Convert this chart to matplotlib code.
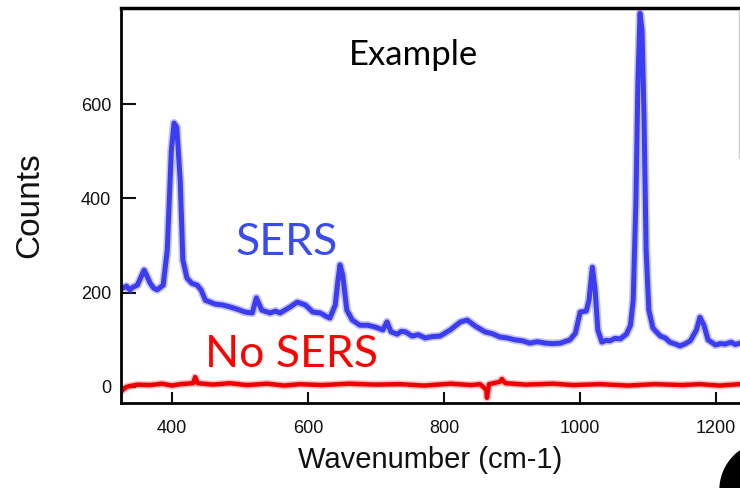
import matplotlib
matplotlib.use("Agg")
import matplotlib.pyplot as plt
from matplotlib.patches import Ellipse
from matplotlib.lines import Line2D

# SERS spectrum (wavenumber, counts)
sers_x = [328, 333, 338, 343, 349, 359, 368, 373, 378, 387, 393, 399, 403, 407,
          412, 416, 422, 429, 437, 443, 449, 456, 463, 474, 485, 496, 507, 518,
          524, 532, 538, 544, 552, 559, 574, 584, 590, 596, 607, 618, 625, 632,
          640, 644, 647, 651, 657, 665, 670, 676, 688, 699, 710, 716, 722, 731,
          737, 743, 753, 762, 772, 783, 794, 809, 824, 834, 846, 860, 871, 882,
          893, 904, 915, 926, 937, 949, 960, 971, 985, 993, 1000, 1009, 1013,
          1018, 1022, 1026, 1032, 1038, 1044, 1051, 1059, 1068, 1074, 1078, 1082,
          1085, 1088, 1091, 1094, 1097, 1101, 1107, 1112, 1118, 1125, 1132, 1140,
          1147, 1155, 1162, 1171, 1176, 1182, 1188, 1194, 1199, 1206, 1213, 1222,
          1228, 1235]
sers_y = [210, 214, 206, 212, 216, 248, 220, 210, 206, 216, 290, 502, 560, 551,
          439, 269, 231, 220, 216, 205, 184, 180, 176, 174, 170, 165, 159, 157,
          189, 163, 160, 157, 161, 157, 170, 180, 177, 174, 159, 157, 151, 146,
          174, 227, 259, 237, 163, 142, 137, 131, 131, 127, 121, 138, 117, 112,
          118, 117, 108, 111, 104, 107, 108, 121, 138, 142, 129, 117, 113, 106,
          104, 100, 98, 93, 96, 93, 92, 93, 100, 114, 159, 161, 184, 254, 206,
          121, 95, 99, 98, 103, 102, 112, 131, 184, 396, 651, 793, 757, 566, 290,
          163, 125, 117, 108, 104, 95, 91, 87, 92, 98, 121, 148, 131, 100, 94, 89,
          92, 91, 95, 90, 93]

# No SERS trace
nosers_x = [328, 333, 338, 350, 368, 385, 400, 412, 431, 434, 438, 460, 485,
            510, 540, 565, 588, 620, 660, 700, 735, 770, 810, 840, 853, 862, 863,
            866, 882, 885, 890, 920, 960, 990, 1029, 1070, 1110, 1150, 1176, 1205,
            1235]
nosers_y = [-6, 0, 2, 5, 4, 7, 3, 6, 8, 21, 8, 5, 8, 4, 7, 3, 6, 4, 7, 5, 6, 3,
            7, 4, 6, -6, -23, 6, 11, 17, 8, 5, 7, 4, 6, 3, 6, 4, 6, 3, 6]

yticks = [0, 200, 400, 600]
xticks = [400, 600, 800, 1000, 1200]

fig = plt.figure(figsize=(7.4, 4.88), dpi=100)
ax = fig.add_axes([121 / 740, 85 / 488, 1 - 121 / 740, 395 / 488])

ax.plot(sers_x, sers_y, color="#4040f5", lw=6, alpha=0.3, solid_capstyle="round")
ax.plot(sers_x, sers_y, color="#3c3cf0", lw=3.6, solid_joinstyle="round")
ax.plot(nosers_x, nosers_y, color="#ff6666", lw=5.5, alpha=0.4)
ax.plot(nosers_x, nosers_y, color="#ee0000", lw=3.2)

ax.set_xlim(325, 1235)
ax.set_ylim(-34, 804)
ax.set_xticks(xticks)
ax.set_yticks(yticks)
ax.tick_params(direction="in", width=1.5, colors="#111111", labelsize=13)
ax.tick_params(axis="x", length=8, pad=12)
ax.tick_params(axis="y", length=11, pad=7)
for lab in ax.get_xticklabels() + ax.get_yticklabels():
    lab.set_family("Liberation Sans")

ax.spines["right"].set_visible(False)
for s in ["left", "bottom", "top"]:
    ax.spines[s].set_linewidth(2)
ax.spines["top"].set_linewidth(2.5)

ax.set_xlabel("Wavenumber (cm-1)", family="Liberation Sans", fontsize=21, color="#111111")
ax.xaxis.set_label_coords(0.5, -0.11)
ax.set_ylabel("Counts", family="Liberation Sans", fontsize=24, color="#111111")
ax.yaxis.set_label_coords(-0.123, 0.5)

fig.text(413 / 740, 1 - 65 / 488, "Example", family="Lato", fontsize=25,
         ha="center", va="baseline", color="black")
fig.text(235 / 740, 1 - 255 / 488, "SERS", family="Lato", fontsize=32,
         va="baseline", color="#3a4cf0")
fig.text(205 / 740, 1 - 367 / 488, "No SERS", family="Lato", fontsize=32,
         va="baseline", color="#ff0000")

# faint vertical line at the right edge and the cut-off black blob
fig.add_artist(Line2D([739 / 740, 739 / 740], [1 - 158 / 488, 1 - 10 / 488],
                      color="#cccccc", lw=1))
fig.add_artist(Ellipse((768 / 740, 1 - 490 / 488), 96 / 740, 96 / 488,
                       color="black", transform=fig.transFigure))

fig.savefig("out.png", dpi=100)
